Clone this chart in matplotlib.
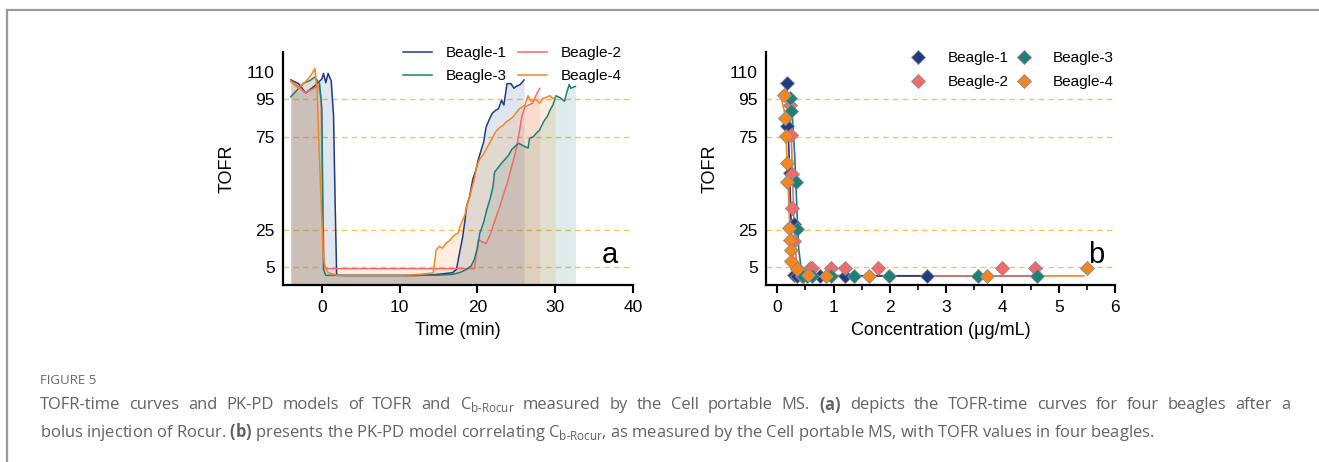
import matplotlib
matplotlib.use("Agg")
import matplotlib.pyplot as plt
from matplotlib.lines import Line2D

plt.rcParams['font.family'] = ['Liberation Sans', 'DejaVu Sans']
plt.rcParams['mathtext.fontset'] = 'custom'
plt.rcParams['mathtext.rm'] = 'Open Sans'
plt.rcParams['mathtext.bf'] = 'Open Sans:bold'

# ---------------- data: panel a (TOFR vs time) ----------------
names = ["Beagle-1", "Beagle-2", "Beagle-3", "Beagle-4"]
colors = ["#1F3B82", "#F26A6A", "#1B8077", "#F5861F"]
fill_colors = ["#2A4F9A", "#E87878", "#1B8077", "#F5861F"]

t1 = [-4.0, -3.0, -2.1, -1.0, 0.0, 0.2, 0.5, 0.8, 1.2, 1.5, 1.7, 1.9, 3, 6, 9, 12, 14.3, 15.5, 16.8,
      17.3, 17.7, 18.1, 18.4, 18.6, 19.0, 19.4, 19.8, 20.1, 20.5, 20.8, 21.1, 21.5, 21.9, 22.3, 22.7,
      23.1, 23.4, 23.8, 24.3, 24.7, 25.0, 25.5, 26.0]
v1 = [105.5, 103.5, 98.5, 102, 106, 109, 104, 109, 105, 86, 40, 0.4, 0.3, 0.3, 0.3, 0.3, 0.7, 1.2, 1.8,
      3.6, 12.5, 21, 30, 37.5, 43, 52, 57, 62.5, 68, 72, 80, 84, 87.5, 89, 90,
      94.5, 92, 103.5, 103.5, 101, 102, 103, 105.5]

t2 = [-4.0, -3.0, -2.2, -1.2, -0.4, -0.1, 0.1, 0.3, 1, 5, 10, 15, 19.0, 19.6, 20.1, 20.6, 21.1, 21.6,
      22.0, 22.5, 23.0, 23.4, 23.9, 24.4, 24.8, 25.1, 25.4, 25.7, 26.1, 26.6, 27.1, 27.5, 28.0]
v2 = [105, 102, 98.7, 100.5, 102.5, 95, 40, 4, 4, 4, 4, 4, 4, 4, 19.6, 18.5, 17.5, 22,
      26.8, 33, 39, 44.6, 51, 59, 65, 71, 78, 85.7, 91, 92, 93, 97, 100.9]

t3 = [-4.0, -3.2, -2.4, -1.6, -0.9, -0.3, 0.0, 0.2, 0.5, 1, 5, 10, 15, 16.8, 17.8, 18.6, 19.2, 19.6,
      20.0, 20.3, 20.8, 21.2, 21.6, 22.0, 22.2, 22.6, 23.1, 23.6, 24.0, 24.4, 24.9, 25.3, 25.7, 26.1,
      26.5, 26.7, 27.2, 27.6, 28.0, 28.5, 29.0, 29.3, 29.7, 30.1, 30.6, 31.2, 31.5, 31.8, 32.0, 32.3, 32.6]
v3 = [96.4, 100, 103.6, 105, 107, 103.6, 90, 3.6, 0.4, 0.4, 0.4, 0.4, 0.5, 0.9, 2, 3.6, 5.5, 9,
      15, 23, 29, 35.7, 41, 48, 56, 58, 60.7, 63, 65, 68, 70, 71.4, 70.5, 69.6,
      68.8, 74, 75, 77, 78.6, 83, 86, 89, 92, 97, 96, 94, 99, 103, 101, 101.5, 102]

t4 = [-4.0, -3.0, -2.0, -1.4, -0.9, -0.6, -0.4, -0.1, 0.2, 0.5, 0.8, 2, 6, 10, 12.6, 14.0, 14.3, 14.7,
      15.1, 15.5, 16.0, 16.4, 16.8, 17.2, 17.5, 17.8, 18.1, 18.4, 18.6, 18.9, 19.2, 19.6, 19.9, 20.3,
      20.7, 21.1, 21.5, 22.0, 22.4, 22.9, 23.3, 23.7, 24.1, 24.6, 25.0, 25.4, 25.8, 26.1, 26.5, 26.9,
      27.2, 27.6, 28.0, 28.4, 28.8, 29.3, 29.7, 30.0]
v4 = [104.5, 101, 105, 108, 111.6, 99, 73, 40, 9, 4, 1.8, 0.4, 0.4, 0.4, 0.9, 1.5, 1.8, 14,
      16, 15, 17.9, 19, 21, 22.5, 23, 27, 30, 33, 37.5, 41, 46, 52, 59, 63,
      65, 68, 71, 75, 78, 80, 81, 83, 84, 85.7, 88, 90, 91, 92, 97, 94,
      95, 94.6, 93, 95.5, 96, 97, 95.5, 96]

# ---------------- data: panel b (TOFR vs concentration) ----------------
c1 = [0.165, 0.18, 0.235, 0.29, 0.29, 0.35, 0.44, 0.53, 0.76, 1.21, 2.66]
r1 = [104, 80.5, 55.6, 28, 0.7, 0.3, 0.3, 0.3, 0.3, 0.3, 0.3]
c2 = [0.235, 0.25, 0.26, 0.27, 0.30, 0.35, 0.58, 0.62, 0.95, 1.21, 1.79, 4.0, 4.57]
r2 = [92.2, 76, 55, 36.8, 18.7, 4.3, 4.3, 4.3, 4.3, 4.3, 4.3, 4.3, 4.3]
c3 = [0.22, 0.25, 0.34, 0.355, 0.45, 0.62, 0.96, 1.37, 1.98, 3.57, 4.62]
r3 = [95.8, 88.6, 50.4, 25.3, 0.3, 0.3, 0.3, 0.3, 0.3, 0.3, 0.3]
c4 = [0.12, 0.13, 0.16, 0.18, 0.18, 0.20, 0.22, 0.24, 0.25, 0.35, 0.55, 0.86, 1.63, 3.73, 5.5]
r4 = [97.5, 85, 75.5, 61, 50.4, 26, 19.5, 14, 8, 3.6, 0.4, 0.3, 0.3, 0.3, 4.5]

# fitted model curves
fx1 = [0.165, 0.19, 0.22, 0.25, 0.27, 0.30, 0.35, 0.5, 1.0, 2.66]
fy1 = [104, 85, 55, 25, 8, 2, 0.6, 0.2, 0.1, 0.1]
fx2 = [0.22, 0.25, 0.28, 0.31, 0.34, 0.38, 0.45, 0.6, 1.0, 2.0, 4.57]
fy2 = [92, 75, 45, 20, 8, 3, 1, 0.5, 0.2, 0.1, 0.1]
fx3 = [0.22, 0.27, 0.31, 0.35, 0.38, 0.42, 0.48, 0.6, 1.0, 4.62]
fy3 = [96, 85, 65, 35, 15, 5, 1.5, 0.5, 0.2, 0.1]
fx4 = [0.07, 0.13, 0.16, 0.19, 0.22, 0.26, 0.30, 0.35, 0.45, 0.7, 1.5, 5.45]
fy4 = [96, 88, 72, 50, 28, 12, 5, 2, 0.6, 0.2, 0.1, 0.1]

ref_levels = [5, 25, 75, 95]
yticks = [5, 25, 75, 95, 110]
xticks_a = [0, 10, 20, 30, 40]
xticks_b = [0, 1, 2, 3, 4, 5, 6]

W, H = 1319, 462
fig = plt.figure(figsize=(W / 100, H / 100), dpi=100)

def px_axes(x0, x1, ytop, ybot):
    return fig.add_axes([x0 / W, 1 - ybot / H, (x1 - x0) / W, (ybot - ytop) / H])

YLIM = (-4.8, 120.5)

def style(ax):
    for s in ["top", "right"]:
        ax.spines[s].set_visible(False)
    for s in ["left", "bottom"]:
        ax.spines[s].set_linewidth(1.6)
    ax.set_ylim(*YLIM)
    ax.set_yticks(yticks)
    ax.tick_params(axis='y', length=0, pad=6, labelsize=12.5)
    ax.tick_params(axis='x', which='major', length=6, width=1.5, labelsize=12.5, pad=5)
    ax.tick_params(axis='x', which='minor', length=3.5, width=1.2)
    for lv in ref_levels:
        ax.axhline(lv, color="#F7C45A", lw=1.0, ls=(0, (4, 3)), zorder=1)
    ax.set_ylabel("TOFR", fontsize=13, labelpad=8)

# ---------------- panel a ----------------
axa = px_axes(283, 633, 52, 285)
style(axa)
axa.set_xlim(-5, 40)
axa.set_xticks(xticks_a)
series = [(t1, v1), (t2, v2), (t3, v3), (t4, v4)]
handles = []
for (t, v), c, fc, n in zip(series, colors, fill_colors, names):
    axa.fill_between(t, v, YLIM[0], color=fc, alpha=0.14, lw=0, zorder=2)
    h, = axa.plot(t, v, color=c, lw=1.1, zorder=3, label=n)
    handles.append(h)
axa.set_xlabel("Time (min)", fontsize=13, labelpad=5)
axa.text(0.935, 0.13, "a", transform=axa.transAxes, fontsize=21, ha="center", va="center")
axa.legend([handles[0], handles[2], handles[1], handles[3]],
           [names[0], names[2], names[1], names[3]],
           ncol=2, loc="upper right", bbox_to_anchor=(0.985, 1.05), frameon=False,
           fontsize=11, handlelength=1.9, columnspacing=0.7, labelspacing=0.55,
           handletextpad=0.9, borderaxespad=0)

# ---------------- panel b ----------------
axb = px_axes(766, 1115, 52, 285)
style(axb)
axb.set_xlim(-0.2, 6)
axb.set_xticks(xticks_b)
axb.set_xticks([0.5, 1.5, 2.5, 3.5, 4.5, 5.5], minor=True)
fits = [(fx1, fy1), (fx2, fy2), (fx3, fy3), (fx4, fy4)]
pts = [(c1, r1), (c2, r2), (c3, r3), (c4, r4)]
fit_z = [5, 4.5, 4, 3.5]
for (fx, fy), c, z in zip(fits, colors, fit_z):
    axb.plot(fx, fy, color=c, lw=1.2, zorder=z)
mhandles = []
for (cx, ry), c, n in zip(pts, colors, names):
    h, = axb.plot(cx, ry, ls="none", marker="D", ms=7, mfc=c, mec="#8a8a8a", mew=0.6,
                  zorder=6, label=n)
    mhandles.append(h)
axb.set_xlabel("Concentration (\u03bcg/mL)", fontsize=13, labelpad=5)
axb.text(0.945, 0.13, "b", transform=axb.transAxes, fontsize=21, ha="center", va="center")
axb.legend(mhandles, names, ncol=2, loc="upper right", bbox_to_anchor=(1.014, 1.03),
           frameon=False, fontsize=11, handlelength=1.0, columnspacing=0.5,
           labelspacing=0.65, handletextpad=1.4, borderaxespad=0)

# ---------------- frame and caption ----------------
fig.add_artist(Line2D([7 / W, 1.0], [1 - 10 / H, 1 - 10 / H], color="#9a9a9a", lw=1.6))
fig.add_artist(Line2D([7 / W, 7 / W], [0, 1 - 10 / H], color="#9a9a9a", lw=1.6))

fig.text(40 / W, 1 - 380 / H, "FIGURE 5", fontsize=9.5, color="#6a6a6a", va="center",
         family="Open Sans")

CAP_FS = 11.9
CAP_COLOR = "#626262"
cap1_words = ["TOFR-time", "curves", "and", "PK-PD", "models", "of", "TOFR", "and",
              "C$_{\\text{b-Rocur}}$", "measured", "by", "the", "Cell", "portable", "MS.",
              "$\\mathbf{(a)}$", "depicts", "the", "TOFR-time", "curves", "for", "four",
              "beagles", "after", "a"]
cap2 = ("bolus injection of Rocur. $\\mathbf{(b)}$ presents the PK-PD model correlating "
        "C$_{\\text{b-Rocur}}$, as measured by the Cell portable MS, with TOFR values in four beagles.")

# justified first line (from x=40 px to x=1290 px)
renderer = fig.canvas.get_renderer()
word_texts = [fig.text(0, 1 - 405 / H, w, fontsize=CAP_FS, color=CAP_COLOR, va="center",
                       family="Open Sans") for w in cap1_words]
widths = [t.get_window_extent(renderer).width for t in word_texts]
x_start, x_end = 40.0, 1290.0
gap = (x_end - x_start - sum(widths)) / (len(widths) - 1)
x = x_start
for t, wdt in zip(word_texts, widths):
    t.set_x(x / W)
    x += wdt + gap

fig.text(40 / W, 1 - 432 / H, cap2, fontsize=CAP_FS, color=CAP_COLOR, va="center",
         family="Open Sans")

fig.savefig("out.png", dpi=100)
